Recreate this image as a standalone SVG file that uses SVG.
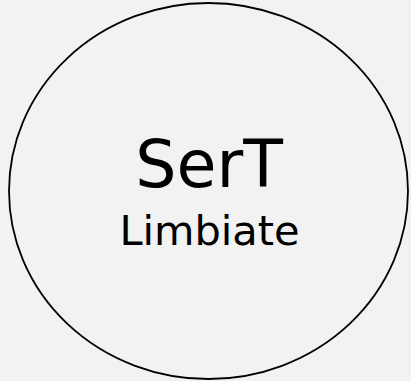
<svg xmlns="http://www.w3.org/2000/svg" width="411" height="381" viewBox="0 0 411 381">
<style>
.n{fill:none;stroke:#000;stroke-width:1.8}
.t{font-family:"DejaVu Sans",Verdana,sans-serif;fill:#000;text-anchor:middle}
</style>
<rect width="411" height="381" fill="#f1f2f1"/>
<g id="sert">
<ellipse class="n" cx="208.5" cy="191" rx="199.5" ry="188"/>
<text class="t" x="209" y="187" font-size="65">SerT</text>
<text class="t" x="209.5" y="245" font-size="41.5">Limbiate</text>
</g>
</svg>
